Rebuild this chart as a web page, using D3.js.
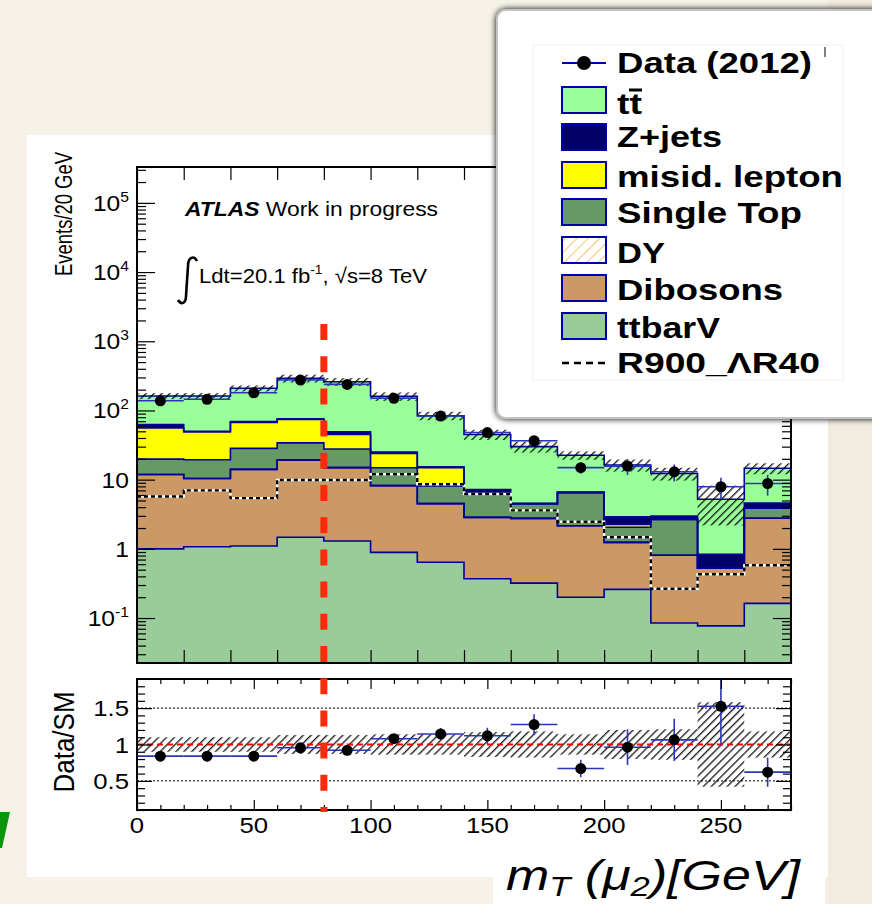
<!DOCTYPE html>
<html>
<head>
<meta charset="utf-8">
<script src="https://cdn.jsdelivr.net/npm/d3@7"></script>
<style>
body{margin:0;background:#f6f2e7;}
svg{display:block;font-family:"Liberation Sans",Arial,Helvetica,sans-serif;}
</style>
</head>
<body>
<svg id="chart" width="872" height="904"></svg>
<script>
// bins of 20 GeV
const binLo = [0, 20, 40, 60, 80, 100, 120, 140, 160, 180, 200, 220, 240, 260];
const binWidth = 20;

// stacked backgrounds (events / bin), bottom to top
const ttbarV    = [1.0, 1.07, 1.1, 1.47, 1.3, 0.89, 0.64, 0.37, 0.32, 0.2, 0.26, 0.085, 0.077, 0.163];
const dibosons  = [10.9, 9.3, 13.0, 17.7, 13.6, 7.3, 3.86, 2.48, 2.44, 1.96, 0.98, 0.725, 0.45, 2.6];
const dy        = [0, 0, 0, 0, 0, 0, 0, 0, 0, 0, 0, 0, 0, 0];
const singleTop = [7.9, 9.0, 14.2, 14.8, 12.8, 6.7, 3.6, 3.45, 1.74, 4.34, 0.81, 1.86, 0, 1.09];
const misid     = [36, 29.6, 38.7, 40, 17.3, 9.1, 6.8, 0, 0, 0, 0.21, 0, 0, 0];
const zjets     = [7, 1, 2, 2, 4, 1, 0.4, 0.9, 0, 0.1, 0.64, 0.31, 0.31, 0.75];
const ttbar     = [99, 112, 140, 215, 211, 135, 68.7, 37.8, 25.5, 15.9, 13.4, 9.3, 4.36, 10];
const signal    = [5.7, 7.0, 5.4, 9.9, 9.9, 12, 8.6, 6.2, 3.6, 2.47, 1.47, 0.265, 0.43, 0.58];
const data      = [138, 145, 180, 275, 238, 150, 83, 48, 36.5, 14.9, 15.7, 13, 7.9, 8.8];
const mcRelErr  = [0.10, 0.10, 0.10, 0.13, 0.13, 0.14, 0.14, 0.17, 0.18, 0.14, 0.2, 0.21, 0.58, 0.18];

// ratio panel
const ratio     = [0.84, 0.84, 0.84, 0.955, 0.92, 1.08, 1.145, 1.12, 1.274, 0.67, 0.963, 1.064, 1.525, 0.62];
const ratioErr  = [0.07, 0.07, 0.06, 0.05, 0.06, 0.06, 0.08, 0.11, 0.14, 0.12, 0.245, 0.29, 0.53, 0.2];

// axes labels
const xTickLabels = [0, 50, 100, 150, 200, 250];
const yMainTicks = [0.1, 1, 10, 100, 1000, 10000, 100000];
const yMainLabels = [["10","-1"],["1",""],["10",""],["10","2"],["10","3"],["10","4"],["10","5"]];
const ratioTicks = [0.5, 1, 1.5];
const ratioLabels = ["0.5", "1", "1.5"];

const legendLabels = ["Data (2012)", "tt", "Z+jets", "misid. lepton", "Single Top", "DY", "Dibosons", "ttbarV", "R900_\u039BR40"];

const keys = ["ttbarV","dibosons","dy","singleTop","misid","zjets","ttbar"];
const colors = {ttbarV:"#99cc99", dibosons:"#cc9966", dy:"url(#hatchDY)", singleTop:"#669966",
                misid:"#ffff00", zjets:"#000066", ttbar:"#99ff99"};
const lineBlue = "#000099", errBlue = "#2b36b4";
const sx = 1.12;

const svg = d3.select("#chart");
const defs = svg.append("defs");

defs.append("pattern").attr("id","hatch").attr("width",5.6).attr("height",5.6)
  .attr("patternUnits","userSpaceOnUse").attr("patternTransform","rotate(45)")
  .append("line").attr("x1",0.7).attr("y1",0).attr("x2",0.7).attr("y2",5.6)
  .attr("stroke","#000").attr("stroke-width",1.2);
const pdy = defs.append("pattern").attr("id","hatchDY").attr("width",8).attr("height",8)
  .attr("patternUnits","userSpaceOnUse").attr("patternTransform","rotate(45)");
pdy.append("rect").attr("width",8).attr("height",8).attr("fill","#fff");
pdy.append("line").attr("x1",0).attr("y1",0).attr("x2",0).attr("y2",8)
  .attr("stroke","#ff9900").attr("stroke-width",1.2);
const shadow = defs.append("filter").attr("id","shadow").attr("x","-10%").attr("y","-10%").attr("width","130%").attr("height","130%");
shadow.append("feGaussianBlur").attr("in","SourceAlpha").attr("stdDeviation",3);
const fm = shadow.append("feMerge");
fm.append("feMergeNode");
fm.append("feMergeNode").attr("in","SourceGraphic");

// page backgrounds
svg.append("rect").attr("width",872).attr("height",904).attr("fill","#f6f2e7");
svg.append("rect").attr("x",828).attr("width",44).attr("height",904).attr("fill","#f2ecdf");
svg.append("rect").attr("x",27).attr("y",135).attr("width",801).attr("height",742).attr("fill","#fff");
svg.append("rect").attr("x",493).attr("y",850).attr("width",332).attr("height",54).attr("fill","#fff");
svg.append("polygon").attr("points","0,812 10,812 2,848 0,848").attr("fill","#0a960a");

// scales
const x = d3.scaleLinear().domain([0, 280]).range([137, 791]);
const yMin = 0.0224;
const yMain = d3.scaleLog().domain([yMin, 3.3e5]).range([663, 167]);
const yRatio = d3.scaleLinear().domain([0.1, 1.9]).range([810, 679]);
const ym = v => yMain(Math.max(v, yMin));

defs.append("clipPath").attr("id","clipMain").append("rect")
  .attr("x",137).attr("y",167).attr("width",654).attr("height",496);
defs.append("clipPath").attr("id","clipRatio").append("rect")
  .attr("x",137).attr("y",679).attr("width",654).attr("height",131);

// stack
const rows = binLo.map((lo, i) => ({lo, ttbarV: ttbarV[i], dibosons: dibosons[i], dy: dy[i],
  singleTop: singleTop[i], misid: misid[i], zjets: zjets[i], ttbar: ttbar[i]}));
const series = d3.stack().keys(keys)(rows);
const mcTotal = series[series.length - 1].map(d => d[1]);

const steps = arr => {
  const p = arr.map(d => ({lo: d.lo, y0: d.y0, y1: d.y1}));
  p.push({lo: p[p.length-1].lo + binWidth, y0: p[p.length-1].y0, y1: p[p.length-1].y1});
  return p;
};
const area = d3.area().curve(d3.curveStepAfter).x(d => x(d.lo)).y0(d => ym(d.y0)).y1(d => ym(d.y1));
const topLine = d3.line().curve(d3.curveStepAfter).x(d => x(d.lo)).y(d => ym(d.y1));

const gMain = svg.append("g").attr("clip-path","url(#clipMain)");
series.forEach(s => {
  const pts = steps(s.map(d => ({lo: d.data.lo, y0: d[0], y1: d[1]})));
  gMain.append("path").attr("d", area(pts)).attr("fill", colors[s.key]);
});
series.forEach(s => {
  const pts = steps(s.map(d => ({lo: d.data.lo, y0: d[0], y1: d[1]})));
  gMain.append("path").attr("d", topLine(pts)).attr("fill","none")
    .attr("stroke", lineBlue).attr("stroke-width",1.6);
});

// signal
const sigPts = steps(binLo.map((lo, i) => ({lo, y0: 0, y1: signal[i]})));
gMain.append("path").attr("d", topLine(sigPts)).attr("fill","none").attr("stroke","#fff").attr("stroke-width",2.4);
gMain.append("path").attr("d", topLine(sigPts)).attr("fill","none").attr("stroke","#000")
  .attr("stroke-width",2.4).attr("stroke-dasharray","4,3");

// MC uncertainty band
gMain.selectAll(".band").data(binLo).enter().append("rect")
  .attr("x", d => x(d)).attr("width", x(binWidth) - x(0))
  .attr("y", (d, i) => ym(mcTotal[i] * (1 + mcRelErr[i])))
  .attr("height", (d, i) => ym(mcTotal[i] * (1 - mcRelErr[i])) - ym(mcTotal[i] * (1 + mcRelErr[i])))
  .attr("fill","url(#hatch)");

// data
binLo.forEach((lo, i) => {
  const e = ratioErr[i] * mcTotal[i];
  gMain.append("line").attr("x1", x(lo)).attr("x2", x(lo + binWidth))
    .attr("y1", ym(data[i])).attr("y2", ym(data[i])).attr("stroke", errBlue).attr("stroke-width",1.6);
  gMain.append("line").attr("x1", x(lo + binWidth/2)).attr("x2", x(lo + binWidth/2))
    .attr("y1", ym(data[i] + e)).attr("y2", ym(data[i] - e)).attr("stroke", errBlue).attr("stroke-width",1.6);
});
gMain.selectAll(".pt").data(data).enter().append("circle")
  .attr("cx", (d, i) => x(binLo[i] + binWidth/2)).attr("cy", d => ym(d)).attr("r",5.5).attr("fill","#000");

// ratio panel
const gRatio = svg.append("g").attr("clip-path","url(#clipRatio)");
ratioTicks.filter(v => v !== 1).forEach(v => {
  gRatio.append("line").attr("x1",137).attr("x2",791).attr("y1",yRatio(v)).attr("y2",yRatio(v))
    .attr("stroke","#000").attr("stroke-width",1).attr("stroke-dasharray","2,2");
});
gRatio.selectAll(".rband").data(binLo).enter().append("rect")
  .attr("x", d => x(d)).attr("width", x(binWidth) - x(0))
  .attr("y", (d, i) => yRatio(1 + mcRelErr[i]))
  .attr("height", (d, i) => yRatio(1 - mcRelErr[i]) - yRatio(1 + mcRelErr[i]))
  .attr("fill","url(#hatch)");
gRatio.append("line").attr("x1",137).attr("x2",791).attr("y1",yRatio(1)).attr("y2",yRatio(1))
  .attr("stroke","#ff0000").attr("stroke-width",2).attr("stroke-dasharray","6,4");
binLo.forEach((lo, i) => {
  gRatio.append("line").attr("x1", x(lo)).attr("x2", x(lo + binWidth))
    .attr("y1", yRatio(ratio[i])).attr("y2", yRatio(ratio[i])).attr("stroke", errBlue).attr("stroke-width",1.6);
  gRatio.append("line").attr("x1", x(lo + binWidth/2)).attr("x2", x(lo + binWidth/2))
    .attr("y1", yRatio(ratio[i] + ratioErr[i])).attr("y2", yRatio(ratio[i] - ratioErr[i]))
    .attr("stroke", errBlue).attr("stroke-width",1.6);
});
gRatio.selectAll(".rpt").data(ratio).enter().append("circle")
  .attr("cx", (d, i) => x(binLo[i] + binWidth/2)).attr("cy", d => yRatio(d)).attr("r",5.5).attr("fill","#000");

// ticks
function ticks(axis, tx, ty) {
  const g = svg.append("g").attr("transform", `translate(${tx},${ty})`).call(axis);
  g.select(".domain").remove();
  g.selectAll("text").remove();
  g.selectAll("line").attr("stroke","#000").attr("stroke-width",1.2);
}
const mainXVals = d3.range(0, 281, 20);
ticks(d3.axisBottom(x).tickValues(mainXVals).tickSize(-13), 0, 663);
ticks(d3.axisTop(x).tickValues(mainXVals).tickSize(-13), 0, 167);
const isDecade = v => Math.abs(Math.log10(v) - Math.round(Math.log10(v))) < 1e-9;
const logVals = yMain.ticks().filter(v => v >= yMin && v <= 3.3e5);
const yMajor = logVals.filter(isDecade), yMinor = logVals.filter(v => !isDecade(v));
ticks(d3.axisLeft(yMain).tickValues(yMinor).tickSize(-9), 137, 0);
ticks(d3.axisLeft(yMain).tickValues(yMajor).tickSize(-18), 137, 0);
ticks(d3.axisRight(yMain).tickValues(yMinor).tickSize(-9), 791, 0);
ticks(d3.axisRight(yMain).tickValues(yMajor).tickSize(-18), 791, 0);

const rxAll = d3.range(0, 281, 10);
const rxMajor = rxAll.filter(v => v % 50 === 0), rxMinor = rxAll.filter(v => v % 50 !== 0);
ticks(d3.axisBottom(x).tickValues(rxMinor).tickSize(-5), 0, 810);
ticks(d3.axisBottom(x).tickValues(rxMajor).tickSize(-10), 0, 810);
ticks(d3.axisTop(x).tickValues(rxMinor).tickSize(-5), 0, 679);
ticks(d3.axisTop(x).tickValues(rxMajor).tickSize(-10), 0, 679);
const ryAll = d3.range(1, 19).map(v => v / 10);
const ryMajor = ryAll.filter(v => Math.abs(v * 2 - Math.round(v * 2)) < 1e-9);
const ryMinor = ryAll.filter(v => !ryMajor.includes(v));
ticks(d3.axisLeft(yRatio).tickValues(ryMinor).tickSize(-8), 137, 0);
ticks(d3.axisLeft(yRatio).tickValues(ryMajor).tickSize(-15), 137, 0);
ticks(d3.axisRight(yRatio).tickValues(ryMinor).tickSize(-8), 791, 0);
ticks(d3.axisRight(yRatio).tickValues(ryMajor).tickSize(-15), 791, 0);

// frames
svg.append("rect").attr("x",137).attr("y",167).attr("width",654).attr("height",496)
  .attr("fill","none").attr("stroke","#000").attr("stroke-width",2);
svg.append("rect").attr("x",137).attr("y",679).attr("width",654).attr("height",131)
  .attr("fill","none").attr("stroke","#000").attr("stroke-width",2);

// cut line at 80 GeV
svg.append("line").attr("x1", x(80)).attr("x2", x(80)).attr("y1",324).attr("y2",812)
  .attr("stroke","#ff2a0a").attr("stroke-width",7).attr("stroke-dasharray","16,16.2");

// tick labels
const stext = (px, py, size, anchor) => svg.append("text")
  .attr("transform", `translate(${px},${py}) scale(${sx},1)`)
  .attr("font-size", size).attr("text-anchor", anchor).attr("fill","#000");

yMainTicks.forEach((v, i) => {
  const t = stext(129, yMain(v) + 8, 22, "end");
  t.append("tspan").text(yMainLabels[i][0]);
  if (yMainLabels[i][1]) t.append("tspan").attr("dy",-9).attr("font-size",14).text(yMainLabels[i][1]);
});
ratioTicks.forEach((v, i) => stext(129, yRatio(v) + 8, 23, "end").text(ratioLabels[i]));
xTickLabels.forEach(v => stext(x(v), 833, 23, "middle").text(v));

// axis titles
svg.append("text").attr("transform","translate(72,152) rotate(-90)").attr("text-anchor","end")
  .attr("font-size",23).attr("textLength",124).attr("lengthAdjust","spacingAndGlyphs").text("Events/20 GeV");
svg.append("text").attr("transform","translate(74,742) rotate(-90) scale(1,1.1)").attr("text-anchor","middle")
  .attr("font-size",26).text("Data/SM");
const xt = svg.append("text").attr("x",506).attr("y",890).attr("font-size",42).attr("font-style","italic")
  .attr("textLength",294).attr("lengthAdjust","spacingAndGlyphs");
xt.append("tspan").text("m");
xt.append("tspan").attr("font-size",28).attr("dy",6).text("T");
xt.append("tspan").attr("dy",-6).text(" (\u03BC");
xt.append("tspan").attr("font-size",28).attr("dy",6).text("2");
xt.append("tspan").attr("dy",-6).text(")[GeV]");

// labels in plot
const atl = svg.append("text").attr("x",185).attr("y",216).attr("font-size",20)
  .attr("textLength",253).attr("lengthAdjust","spacingAndGlyphs");
atl.append("tspan").attr("font-weight","bold").attr("font-style","italic").text("ATLAS");
atl.append("tspan").text(" Work in progress");
svg.append("path").attr("d","M197,261 C194,255 188,257 188,266 L186,296 C186,304 181,305 178,300")
  .attr("fill","none").attr("stroke","#000").attr("stroke-width",2.6);
const lum = svg.append("text").attr("x",199).attr("y",283).attr("font-size",21)
  .attr("textLength",228).attr("lengthAdjust","spacingAndGlyphs");
lum.append("tspan").text("Ldt=20.1 fb");
lum.append("tspan").attr("dy",-9).attr("font-size",13).text("-1");
lum.append("tspan").attr("dy",9).text(", \u221As=8 TeV");

// legend
const lg = svg.append("g");
lg.append("rect").attr("x",497).attr("y",10).attr("width",400).attr("height",408).attr("rx",9)
  .attr("fill","#fff").attr("stroke","#c4c4c4").attr("stroke-width",2).attr("filter","url(#shadow)");
lg.append("rect").attr("x",533).attr("y",45).attr("width",310).attr("height",335)
  .attr("fill","#fff").attr("stroke","#f0f0f0").attr("stroke-width",1);
lg.append("line").attr("x1",825).attr("x2",825).attr("y1",47).attr("y2",57).attr("stroke","#000").attr("stroke-width",1);

const lgBaselines = [73, 114, 147, 187, 223, 263, 300, 338, 373];
const lgWidths = [195, 25, 105, 226, 185, 48, 166, 103, 203];
const boxTops = {tt:87, "Z+jets":124, "misid. lepton":162, "Single Top":199, DY:237, Dibosons:275, ttbarV:313};
const boxFill = {tt:colors.ttbar, "Z+jets":colors.zjets, "misid. lepton":colors.misid,
  "Single Top":colors.singleTop, DY:colors.dy, Dibosons:colors.dibosons, ttbarV:colors.ttbarV};
legendLabels.forEach((lab, i) => {
  lg.append("text").attr("x",617).attr("y",lgBaselines[i]).attr("font-size",30).attr("font-weight","bold")
    .attr("textLength", lgWidths[i]).attr("lengthAdjust","spacingAndGlyphs").text(lab);
  if (boxTops[lab] !== undefined) {
    lg.append("rect").attr("x",562).attr("y",boxTops[lab]).attr("width",44).attr("height",26)
      .attr("fill", boxFill[lab]).attr("stroke","#0000aa").attr("stroke-width",2);
  }
});
// tt-bar overline
lg.append("line").attr("x1",629).attr("x2",642).attr("y1",90).attr("y2",90).attr("stroke","#000").attr("stroke-width",3);
// data marker
lg.append("line").attr("x1",562).attr("x2",606).attr("y1",63).attr("y2",63).attr("stroke","#0000aa").attr("stroke-width",2);
lg.append("circle").attr("cx",584).attr("cy",63).attr("r",7).attr("fill","#000");
// signal line
lg.append("line").attr("x1",562).attr("x2",606).attr("y1",363).attr("y2",363).attr("stroke","#000")
  .attr("stroke-width",2.5).attr("stroke-dasharray","7,5");
</script>
</body>
</html>
